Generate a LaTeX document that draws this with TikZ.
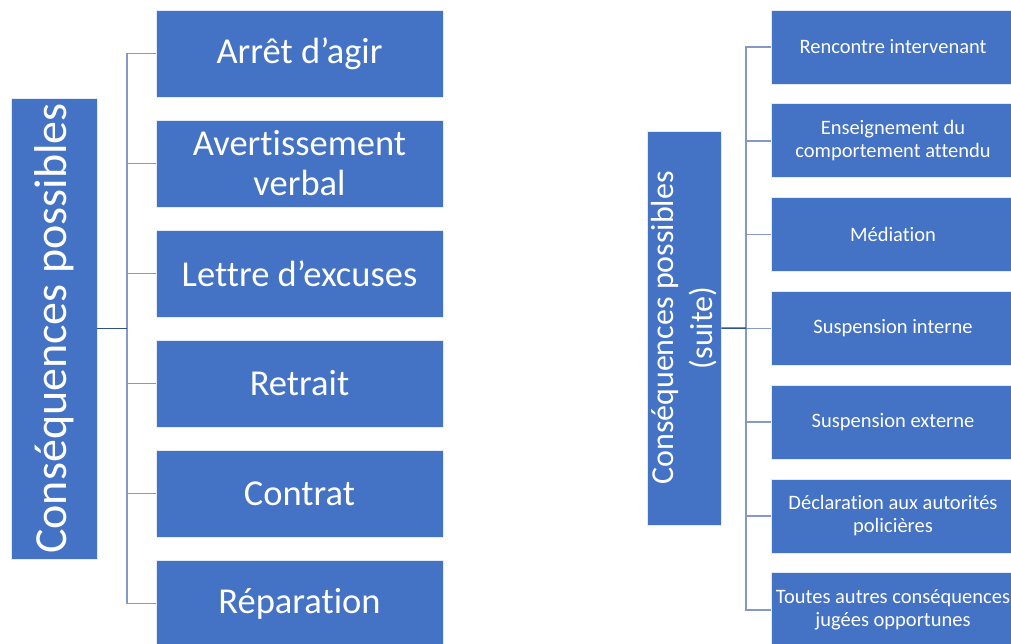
\documentclass[tikz,border=0pt]{standalone}
\usepackage{fontspec}
\setmainfont{Carlito}[Ligatures={NoCommon}]
\definecolor{boxblue}{HTML}{4472C4}
\definecolor{rootline}{HTML}{2F528F}
\definecolor{childline}{HTML}{8598C8}
\begin{document}
\begin{tikzpicture}[x=1pt,y=-1pt,
  box/.style={rectangle,fill=boxblue,draw=white!85!boxblue,line width=0.8pt,text=white,align=center,inner sep=0pt},
  lchild/.style={box,minimum width=287,minimum height=87,font=\fontsize{36.5}{40}\selectfont},
  rchild/.style={box,minimum width=244,minimum height=74,font=\fontsize{20.5}{23}\selectfont},
  rconn/.style={draw=rootline,line width=1.5pt},
  cconn/.style={draw=childline,line width=1.5pt}]
\useasboundingbox (0,0) rectangle (1011,643);
\clip (0,0) rectangle (1011,643);
% left part
\node[box,rotate=90,minimum width=461,minimum height=86,font=\fontsize{46}{54}\selectfont] (Lroot) at (54,328.5) {Conséquences possibles};
\node[lchild] (L1) at (299.5,53.5) {Arrêt d’agir};
\node[lchild] (L2) at (299.5,163.5) {Avertissement\\verbal};
\node[lchild] (L3) at (299.5,273.5) {Lettre d’excuses};
\node[lchild] (L4) at (299.5,383.5) {Retrait};
\node[lchild] (L5) at (299.5,493.5) {Contrat};
\node[lchild] (L6) at (299.5,603.5) {Réparation};
\coordinate (ls) at (127,328.5);
\foreach \c in {L1,L2,L3,L4,L5,L6}{\draw[cconn] (ls) |- (\c.west);}
\draw[rconn] (Lroot.south) -- (ls);
% right part
\node[box,rotate=90,minimum width=394,minimum height=74,font=\fontsize{32}{39}\selectfont] (Rroot) at (684,328) {Conséquences possibles\\(suite)};
\node[rchild] (R1) at (893,47) {Rencontre intervenant};
\node[rchild] (R2) at (893,140.8) {Enseignement du\\comportement attendu};
\node[rchild] (R3) at (893,234.6) {Médiation};
\node[rchild] (R4) at (893,328.4) {Suspension interne};
\node[rchild] (R5) at (893,422.2) {Suspension externe};
\node[rchild] (R6) at (893,516) {Déclaration aux autorités\\policières};
\node[rchild] (R7) at (893,609.8) {Toutes autres conséquences\\jugées opportunes};
\coordinate (rs) at (746,328.2);
\foreach \c in {R1,R2,R3,R4,R5,R6,R7}{\draw[cconn] (rs) |- (\c.west);}
\draw[rconn] (Rroot.south) -- (rs);
\end{tikzpicture}
\end{document}
